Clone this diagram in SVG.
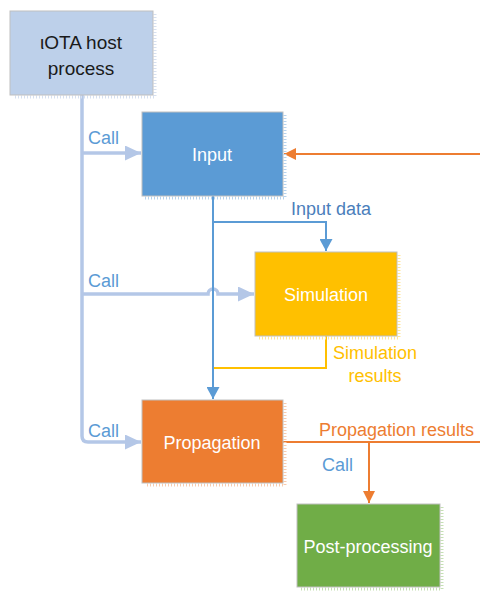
<svg xmlns="http://www.w3.org/2000/svg" width="480" height="592" viewBox="0 0 480 592">
<defs>
<style>
.box{stroke:#BFBFBF;stroke-width:1}
.shadow{fill:none;stroke-width:3;stroke-dasharray:1 2}
.lbl{font-family:"Liberation Sans",Arial,sans-serif;font-size:18px;fill:#FFFFFF;text-anchor:middle}
.host{font-family:"Liberation Sans",Arial,sans-serif;font-size:19px;fill:#1A1A1A;text-anchor:middle}
.call{font-family:"Liberation Sans",Arial,sans-serif;font-size:18px;fill:#5B9BD5}
.ctrl{fill:none;stroke:#B4C7E7;stroke-width:3.5}
.data{fill:none;stroke:#5B9BD5;stroke-width:2}
.org{fill:none;stroke:#ED7D31;stroke-width:2}
.yel{fill:none;stroke:#FFC000;stroke-width:2}
</style>
<marker id="aCtrl" markerUnits="userSpaceOnUse" viewBox="0 0 16 15" markerWidth="16" markerHeight="15" refX="16" refY="7.5" orient="auto"><path d="M0,0 L16,7.5 L0,15 z" fill="#B4C7E7"/></marker>
<marker id="aData" markerUnits="userSpaceOnUse" viewBox="0 0 12 13" markerWidth="12" markerHeight="13" refX="12" refY="6.5" orient="auto"><path d="M0,0 L12,6.5 L0,13 z" fill="#5B9BD5"/></marker>
<marker id="aOrg" markerUnits="userSpaceOnUse" viewBox="0 0 12 12" markerWidth="12" markerHeight="12" refX="12" refY="6" orient="auto"><path d="M0,0 L12,6 L0,12 z" fill="#ED7D31"/></marker>
</defs>
<rect width="480" height="592" fill="#FFFFFF"/>

<g id="connectors">
<path class="ctrl" d="M82,95 V436 Q82,442 88,442 H141" marker-end="url(#aCtrl)"/>
<path class="ctrl" d="M82,153 H141" marker-end="url(#aCtrl)"/>
<path class="ctrl" d="M82,294 H208 A5,5 0 0 1 218,294 H254" marker-end="url(#aCtrl)"/>
<path class="data" d="M213,196 V399" marker-end="url(#aData)"/>
<path class="data" d="M213,222 H326 V251" marker-end="url(#aData)"/>
<path class="yel" d="M326,336 V368 H214"/>
<path class="org" d="M480,154 H284" marker-end="url(#aOrg)"/>
<path class="org" d="M283,442 H480"/>
<path class="org" d="M369,442 V503" marker-end="url(#aOrg)"/>
</g>

<g id="host">
<polyline class="shadow" points="155,14 155,97 13,97" stroke="#D6E0F0"/>
<rect class="box" x="10" y="11" width="143" height="84" fill="#BDD0EA"/>
<text class="host" x="81" y="49">ιOTA host</text>
<text class="host" x="81" y="75">process</text>
</g>

<g id="input">
<polyline class="shadow" points="285,115 285,198 145,198" stroke="#B6D3EE"/>
<rect class="box" x="142" y="112" width="141" height="84" fill="#5B9BD5"/>
<text class="lbl" x="212" y="161">Input</text>
</g>

<g id="simulation">
<polyline class="shadow" points="399,255 399,338 258,338" stroke="#FFE699"/>
<rect class="box" x="255" y="252" width="142" height="84" fill="#FFC000"/>
<text class="lbl" x="326" y="301">Simulation</text>
</g>

<g id="propagation">
<polyline class="shadow" points="285,403 285,485 145,485" stroke="#F8CBAD"/>
<rect class="box" x="142" y="400" width="141" height="83" fill="#ED7D31"/>
<text class="lbl" x="212" y="449">Propagation</text>
</g>

<g id="postprocessing">
<polyline class="shadow" points="442,507 442,589 300,589" stroke="#C5E0B4"/>
<rect class="box" x="297" y="504" width="143" height="83" fill="#70AD47"/>
<text class="lbl" x="368" y="553">Post-processing</text>
</g>

<g id="labels">
<text class="call" x="88" y="144">Call</text>
<text class="call" x="88" y="287">Call</text>
<text class="call" x="88" y="437">Call</text>
<text class="call" x="322" y="471">Call</text>
<text class="call" x="291" y="215" style="fill:#4A7EBB">Input data</text>
<text class="call" x="375" y="359" style="fill:#FFC000;text-anchor:middle">Simulation</text>
<text class="call" x="375" y="382" style="fill:#FFC000;text-anchor:middle">results</text>
<text class="call" x="319" y="436" style="fill:#ED7D31">Propagation results</text>
</g>
</svg>
